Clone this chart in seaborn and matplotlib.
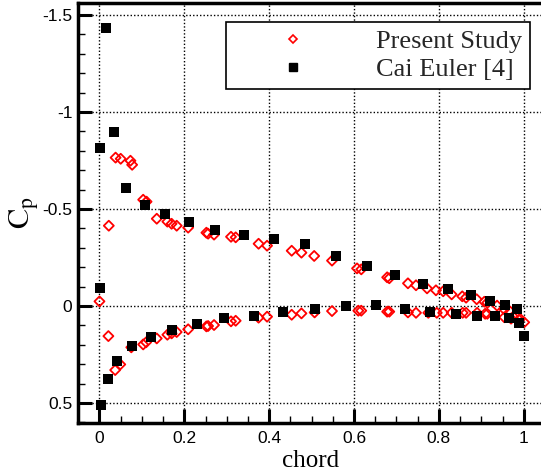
import numpy as np
import pandas as pd
import matplotlib
matplotlib.use("Agg")
import matplotlib.pyplot as plt
from matplotlib.ticker import MultipleLocator, FuncFormatter
from matplotlib.lines import Line2D
import seaborn as sns

# Present Study (red open diamonds)
present_x = [0.000, 0.022, 0.038, 0.050, 0.073, 0.077, 0.103, 0.111, 0.135, 0.160,
             0.170, 0.182, 0.209, 0.252, 0.256, 0.270, 0.310, 0.321, 0.375, 0.395,
             0.453, 0.476, 0.506, 0.548, 0.607, 0.617, 0.678, 0.683, 0.727, 0.746,
             0.772, 0.793, 0.810, 0.830, 0.855, 0.864, 0.889, 0.907, 0.914, 0.937,
             0.954, 0.968, 0.975, 0.991, 1.001,
             0.021, 0.037, 0.049, 0.075, 0.103, 0.110, 0.135, 0.160, 0.170, 0.182,
             0.209, 0.252, 0.256, 0.270, 0.310, 0.321, 0.375, 0.395, 0.453, 0.476,
             0.507, 0.548, 0.610, 0.617, 0.678, 0.683, 0.727, 0.746, 0.775, 0.795,
             0.810, 0.830, 0.856, 0.864, 0.890, 0.909, 0.914, 0.954, 0.970, 0.989]
present_cp = [-0.024, -0.414, -0.765, -0.759, -0.749, -0.728, -0.548, -0.538, -0.450, -0.435,
              -0.424, -0.414, -0.404, -0.378, -0.373, -0.368, -0.357, -0.354, -0.321, -0.311,
              -0.285, -0.275, -0.258, -0.234, -0.194, -0.189, -0.148, -0.143, -0.117, -0.107,
              -0.091, -0.081, -0.076, -0.060, -0.050, -0.043, -0.035, -0.022, -0.017, -0.002,
              0.017, 0.029, 0.055, 0.065, 0.084,
              0.155, 0.330, 0.301, 0.213, 0.198, 0.187, 0.167, 0.148, 0.141, 0.134,
              0.120, 0.105, 0.103, 0.098, 0.079, 0.076, 0.060, 0.055, 0.045, 0.038,
              0.033, 0.026, 0.024, 0.024, 0.029, 0.029, 0.033, 0.035, 0.035, 0.035,
              0.035, 0.035, 0.035, 0.035, 0.035, 0.040, 0.040, 0.058, 0.065, 0.072]

# Cai Euler [4] (black filled squares)
cai_x = [0.016, 0.035, 0.002, 0.063, 0.108, 0.155, 0.212, 0.273, 0.341, 0.412,
         0.485, 0.558, 0.631, 0.697, 0.763, 0.822, 0.876, 0.921, 0.956, 0.984,
         0.989, 1.001, 0.964, 0.933, 0.890, 0.841, 0.779, 0.720, 0.652, 0.581,
         0.508, 0.433, 0.365, 0.294, 0.230, 0.172, 0.122, 0.077, 0.042, 0.021,
         0.004, 0.002]
cai_cp = [-1.435, -0.895, -0.813, -0.607, -0.519, -0.473, -0.431, -0.390, -0.364, -0.344,
          -0.318, -0.256, -0.205, -0.158, -0.112, -0.086, -0.055, -0.024, -0.004, 0.017,
          0.089, 0.156, 0.064, 0.053, 0.053, 0.040, 0.033, 0.017, -0.004, 0.002,
          0.017, 0.033, 0.053, 0.064, 0.094, 0.125, 0.162, 0.208, 0.285, 0.378,
          0.512, -0.091]

y_ticks = [-1.5, -1.0, -0.5, 0.0, 0.5]
x_ticks = [0.0, 0.2, 0.4, 0.6, 0.8, 1.0]

sns.set_theme(style="ticks")
plt.rcParams['font.family'] = ['Liberation Sans', 'DejaVu Sans']
plt.rcParams['mathtext.fontset'] = 'stix'

W, H = 541, 475
fig = plt.figure(figsize=(W / 100, H / 100), dpi=100)
left_px, right_px, top_px, bot_px = 78, 545, 3, 423
aw, ah = right_px - left_px, bot_px - top_px
ax = fig.add_axes([left_px / W, 1 - bot_px / H, aw / W, ah / H])

df_p = pd.DataFrame({"x": present_x, "cp": present_cp})
df_c = pd.DataFrame({"x": cai_x, "cp": cai_cp})

sns.scatterplot(data=df_p, x="x", y="cp", ax=ax, marker="D", s=26,
                facecolor="none", edgecolor="red", linewidth=1.3, zorder=3)
sns.scatterplot(data=df_c, x="x", y="cp", ax=ax, marker="s", s=48,
                color="black", edgecolor="black", linewidth=0, zorder=4)

ax.set_xlim(-0.0506, 1.05)
ax.set_ylim(0.603, -1.562)

ax.set_xticks(x_ticks)
ax.set_yticks(y_ticks)
ax.xaxis.set_minor_locator(MultipleLocator(0.05))
ax.yaxis.set_minor_locator(MultipleLocator(0.1))
fmt = FuncFormatter(lambda v, p: "%g" % round(v, 3))
ax.xaxis.set_major_formatter(fmt)
ax.yaxis.set_major_formatter(fmt)

ax.tick_params(which="major", direction="in", length=10, width=2.2, labelsize=12.5,
               colors="black")
ax.tick_params(which="minor", direction="in", length=5, width=1.0, colors="black")
ax.tick_params(axis="y", which="major", pad=4)
ax.tick_params(axis="x", which="major", pad=6)

ax.grid(True, which="major", linestyle=(0, (1, 1.5)), color="black", linewidth=1.0)
for side in ["left", "bottom", "top"]:
    ax.spines[side].set_linewidth(2.5)
    ax.spines[side].set_color("black")
ax.spines["right"].set_visible(False)

ax.set_xlabel("chord", fontfamily="Liberation Serif", fontsize=18, color="black")
ax.set_ylabel(r"$\mathrm{C}_{\mathrm{p}}$", fontsize=22, color="black")
ax.xaxis.set_label_coords((311 - left_px) / aw, -(450 - bot_px) / ah)
ax.yaxis.set_label_coords(-(78 - 41) / aw, 0.5)

handles = [
    Line2D([], [], linestyle="none", marker="D", markersize=4, markerfacecolor="none",
           markeredgecolor="red", markeredgewidth=1.2),
    Line2D([], [], linestyle="none", marker="s", markersize=6, markerfacecolor="black",
           markeredgecolor="black"),
]
leg = ax.legend(handles, ["Present Study", "Cai Euler [4]"],
                loc="upper left",
                bbox_to_anchor=((226 - left_px) / aw, 1 - (22 - top_px) / ah),
                borderaxespad=0, prop={"family": "Liberation Serif", "size": 19},
                frameon=True, fancybox=False, framealpha=1, edgecolor="black",
                borderpad=0.3, handlelength=4.5, handletextpad=0.9, labelspacing=0.15)
leg.get_frame().set_linewidth(1.2)

fig.savefig("out.png", dpi=100)
